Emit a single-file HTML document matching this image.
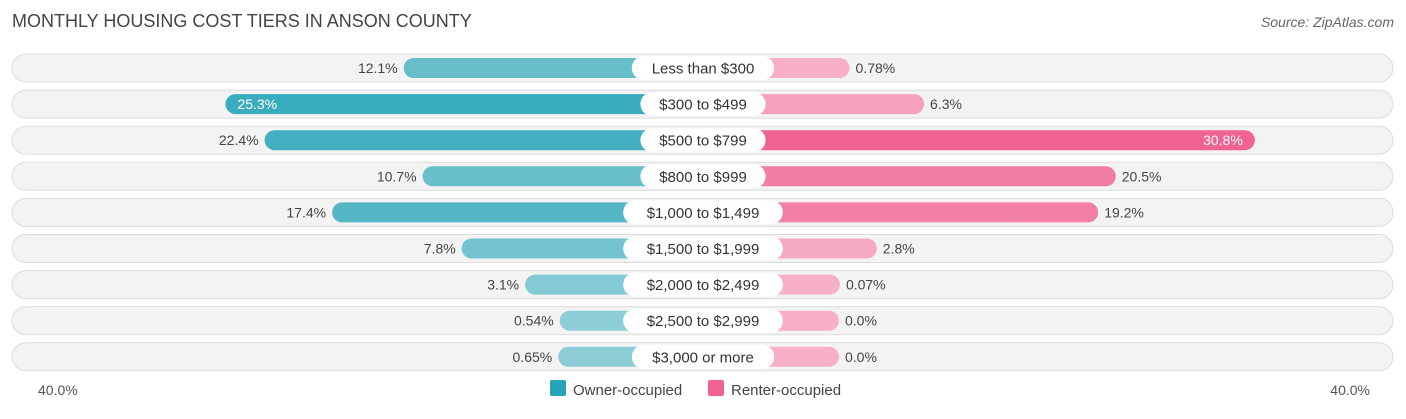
<!DOCTYPE html>
<html><head><meta charset="utf-8"><style>
body{margin:0;background:#fff;font-family:"Liberation Sans",sans-serif;}
svg text{font-family:"Liberation Sans",sans-serif;}
</style></head><body>
<svg width="1406" height="414" xmlns="http://www.w3.org/2000/svg">
<text x="12" y="27" font-size="18" fill="#444">MONTHLY HOUSING COST TIERS IN ANSON COUNTY</text>
<text x="1394" y="27" font-size="14" fill="#666" font-style="italic" text-anchor="end">Source: ZipAtlas.com</text>
<g id="rows"></g>
<text x="38" y="395" font-size="14" fill="#555">40.0%</text>
<text x="1370" y="395" font-size="14" fill="#555" text-anchor="end">40.0%</text>
<rect x="550" y="380" width="16" height="16" rx="2" fill="#27a4b7"/>
<text x="573" y="395" font-size="15" fill="#444">Owner-occupied</text>
<rect x="708" y="380" width="16" height="16" rx="2" fill="#f06292"/>
<text x="731" y="395" font-size="15" fill="#444">Renter-occupied</text>
</svg>
<script>
const categories=["Less than $300","$300 to $499","$500 to $799","$800 to $999","$1,000 to $1,499","$1,500 to $1,999","$2,000 to $2,499","$2,500 to $2,999","$3,000 or more"];
const ownerValues=[12.1,25.3,22.4,10.7,17.4,7.8,3.1,0.54,0.65];
const renterValues=[0.78,6.3,30.8,20.5,19.2,2.8,0.07,0.0,0.0];
const ownerLabels=["12.1%","25.3%","22.4%","10.7%","17.4%","7.8%","3.1%","0.54%","0.65%"];
const renterLabels=["0.78%","6.3%","30.8%","20.5%","19.2%","2.8%","0.07%","0.0%","0.0%"];
const NS="http://www.w3.org/2000/svg";
const cx=703, base=136, scale=13.5;
function len(v){return base+v*scale;}
function rowY(i){return 68+i*36.1;}
function mix(a,b,t){return "rgb("+a.map((x,k)=>Math.round(x+(b[k]-x)*t)).join(",")+")";}
const maxV=Math.max(...ownerValues,...renterValues);
const g=document.getElementById('rows');
function mk(tag,attrs,parent){const e=document.createElementNS(NS,tag);for(const k in attrs)e.setAttribute(k,attrs[k]);(parent||g).appendChild(e);return e;}
categories.forEach((c,i)=>{
  const y=rowY(i);
  const row=mk('g',{});
  
  
  const bg=mk('rect',{x:12,y:y-14,width:1381,height:28,rx:14,fill:'#f3f3f3',stroke:'#dcdcdc','stroke-width':1},row);
  
  
  const ow=len(ownerValues[i]);
  const ob=mk('rect',{x:cx-ow,y:y-10,width:ow,height:20,rx:10,fill:mix([142,206,216],[39,164,183],ownerValues[i]/maxV)},row);
  
  
  const rw=len(renterValues[i]);
  const rb=mk('rect',{x:cx,y:y-10,width:rw,height:20,rx:10,fill:mix([247,176,200],[240,98,146],renterValues[i]/maxV)},row);
  
  
  const lw=c.length*8.6+22;
  const lp=mk('rect',{x:cx-lw/2,y:y-12,width:lw,height:24,rx:12,fill:'#fff'},row);
  
  
  const lt=mk('text',{x:cx,y:y+5.5,'font-size':15,fill:'#333','text-anchor':'middle'},row);
  lt.textContent=c;
  
  
  const oin=ownerValues[i]>24;
  const ot=mk('text',{x:oin?cx-ow+12:cx-ow-6,y:y+5,'font-size':14,fill:oin?'#fff':'#444','text-anchor':oin?'start':'end'},row);
  ot.textContent=ownerLabels[i];
  
  
  const rin=renterValues[i]>24;
  const rt=mk('text',{x:rin?cx+rw-12:cx+rw+6,y:y+5,'font-size':14,fill:rin?'#fff':'#444','text-anchor':rin?'end':'start'},row);
  rt.textContent=renterLabels[i];
  
  
});
</script>
</body></html>
